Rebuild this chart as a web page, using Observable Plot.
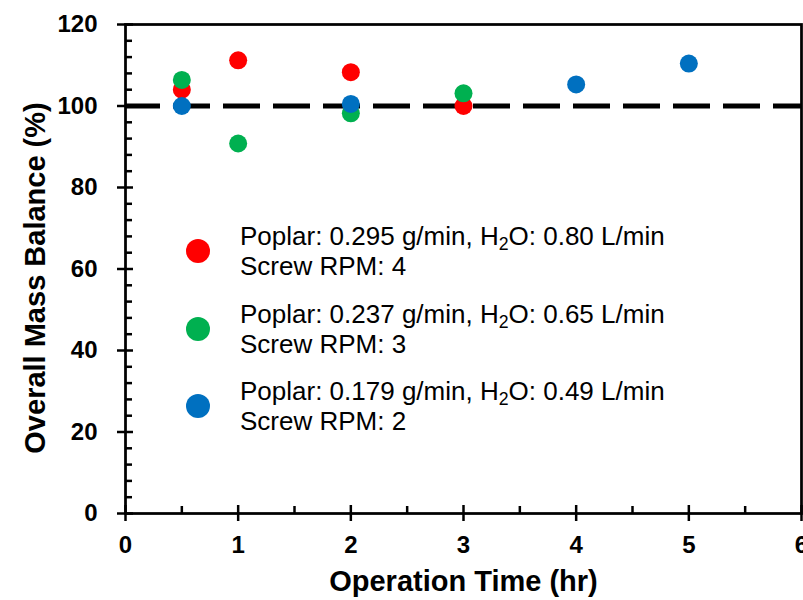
<!DOCTYPE html>
<html>
<head>
<meta charset="utf-8">
<script src="https://cdn.jsdelivr.net/npm/d3@7"></script>
<script src="https://cdn.jsdelivr.net/npm/@observablehq/plot@0.6"></script>
<style>
  html, body { margin: 0; padding: 0; background: #fff; }
  #wrap { position: relative; width: 803px; height: 600px; overflow: hidden; }
  .leg { position: absolute; left: 0; top: 0; font-family: "Liberation Sans", Arial, sans-serif; font-size: 26px; line-height: 30px; color: #000; white-space: nowrap; }
  .leg .dot { position: absolute; width: 24px; height: 24px; border-radius: 50%; }
  .leg .txt { position: absolute; left: 240px; }
  .leg sub { font-size: 0.68em; line-height: 0; vertical-align: baseline; position: relative; top: 0.28em; }
</style>
</head>
<body>
<div id="wrap"></div>
<script>
// ---- data ----
const seriesNames = ["rpm4", "rpm3", "rpm2"];
const seriesColors = ["#FF0000", "#00B050", "#0070C0"];
const redTime = [0.5, 1, 2, 3];
const redBalance = [104.0, 111.2, 108.3, 100.0];
const greenTime = [0.5, 1, 2, 3];
const greenBalance = [106.4, 90.8, 98.2, 103.1];
const blueTime = [0.5, 2, 4, 5];
const blueBalance = [100.0, 100.5, 105.3, 110.4];
const legendLine1 = [
  ["Poplar: 0.295 g/min, H", "2", "O: 0.80 L/min"],
  ["Poplar: 0.237 g/min, H", "2", "O: 0.65 L/min"],
  ["Poplar: 0.179 g/min, H", "2", "O: 0.49 L/min"]
];
const legendLine2 = ["Screw RPM: 4", "Screw RPM: 3", "Screw RPM: 2"];
const xMajor = [0, 1, 2, 3, 4, 5, 6];
const xMinor = [0.5, 1.5, 2.5, 3.5, 4.5, 5.5];
const yMajor = [0, 20, 40, 60, 80, 100, 120];
const yMinor = [4, 8, 12, 16, 24, 28, 32, 36, 44, 48, 52, 56, 64, 68, 72, 76, 84, 88, 92, 96, 104, 108, 112, 116];
const referenceLine = [100];
const xTitle = "Operation Time (hr)";
const yTitle = "Overall Mass Balance (%)";

const rows = [];
[[redTime, redBalance], [greenTime, greenBalance], [blueTime, blueBalance]].forEach(([t, v], i) => {
  t.forEach((x, j) => rows.push({series: seriesNames[i], time: x, balance: v[j]}));
});

const font = "Liberation Sans, Arial, sans-serif";

const chart = Plot.plot({
  width: 803,
  height: 600,
  marginTop: 24,
  marginLeft: 125,
  marginRight: 2,
  marginBottom: 87,
  style: {fontFamily: font, fontSize: "24px", fontWeight: "bold", color: "#000", background: "#fff", overflow: "visible"},
  x: {domain: [0, 6]},
  y: {domain: [0, 120]},
  color: {domain: seriesNames, range: seriesColors},
  marks: [
    Plot.ruleY(referenceLine, {stroke: "#000", strokeWidth: 5, strokeDasharray: "37,13", strokeDashoffset: 2}),
    Plot.frame({stroke: "#000", strokeWidth: 2.75}),
    Plot.axisY({ticks: yMajor, tickSize: 16, dx: 8, text: null, label: null, strokeWidth: 2.5, stroke: "#000"}),
    Plot.axisY({ticks: yMinor, tickSize: 7, dx: 7, text: null, label: null, strokeWidth: 2.5, stroke: "#000"}),
    Plot.axisX({ticks: xMajor, tickSize: 16, dy: -8, text: null, label: null, strokeWidth: 2.5, stroke: "#000"}),
    Plot.axisX({ticks: xMinor, tickSize: 7, dy: -7, text: null, label: null, strokeWidth: 2.5, stroke: "#000"}),
    Plot.text(yMajor, {y: d => d, text: d => String(d), frameAnchor: "left", textAnchor: "end", lineAnchor: "middle", dx: -28, fontSize: 24, fontWeight: "bold", fill: "#000"}),
    Plot.text(xMajor, {x: d => d, text: d => String(d), frameAnchor: "bottom", textAnchor: "middle", lineAnchor: "middle", dy: 32, fontSize: 24, fontWeight: "bold", fill: "#000"}),
    Plot.dot(rows, {x: "time", y: "balance", fill: "series", r: 9, stroke: null}),
    Plot.text([yTitle], {frameAnchor: "left", textAnchor: "middle", lineAnchor: "middle", rotate: -90, dx: -90, dy: 9, fontSize: 29, fontWeight: "bold", fill: "#000"}),
    Plot.text([xTitle], {frameAnchor: "bottom", textAnchor: "middle", lineAnchor: "middle", dy: 68, fontSize: 29, fontWeight: "bold", fill: "#000"})
  ]
});

const wrap = document.getElementById("wrap");
wrap.appendChild(chart);

// legend overlay
const legTops = [221, 299, 376];
const leg = document.createElement("div");
leg.className = "leg";
seriesNames.forEach((s, i) => {
  const dot = document.createElement("div");
  dot.className = "dot";
  dot.style.background = seriesColors[i];
  dot.style.left = (198 - 12) + "px";
  dot.style.top = (legTops[i] + 30 - 12) + "px";
  leg.appendChild(dot);
  const txt = document.createElement("div");
  txt.className = "txt";
  txt.style.top = legTops[i] + "px";
  const l1 = document.createElement("div");
  l1.appendChild(document.createTextNode(legendLine1[i][0]));
  const sub = document.createElement("sub");
  sub.textContent = legendLine1[i][1];
  l1.appendChild(sub);
  l1.appendChild(document.createTextNode(legendLine1[i][2]));
  const l2 = document.createElement("div");
  l2.textContent = legendLine2[i];
  txt.appendChild(l1);
  txt.appendChild(l2);
  leg.appendChild(txt);
});
wrap.appendChild(leg);
</script>
</body>
</html>
